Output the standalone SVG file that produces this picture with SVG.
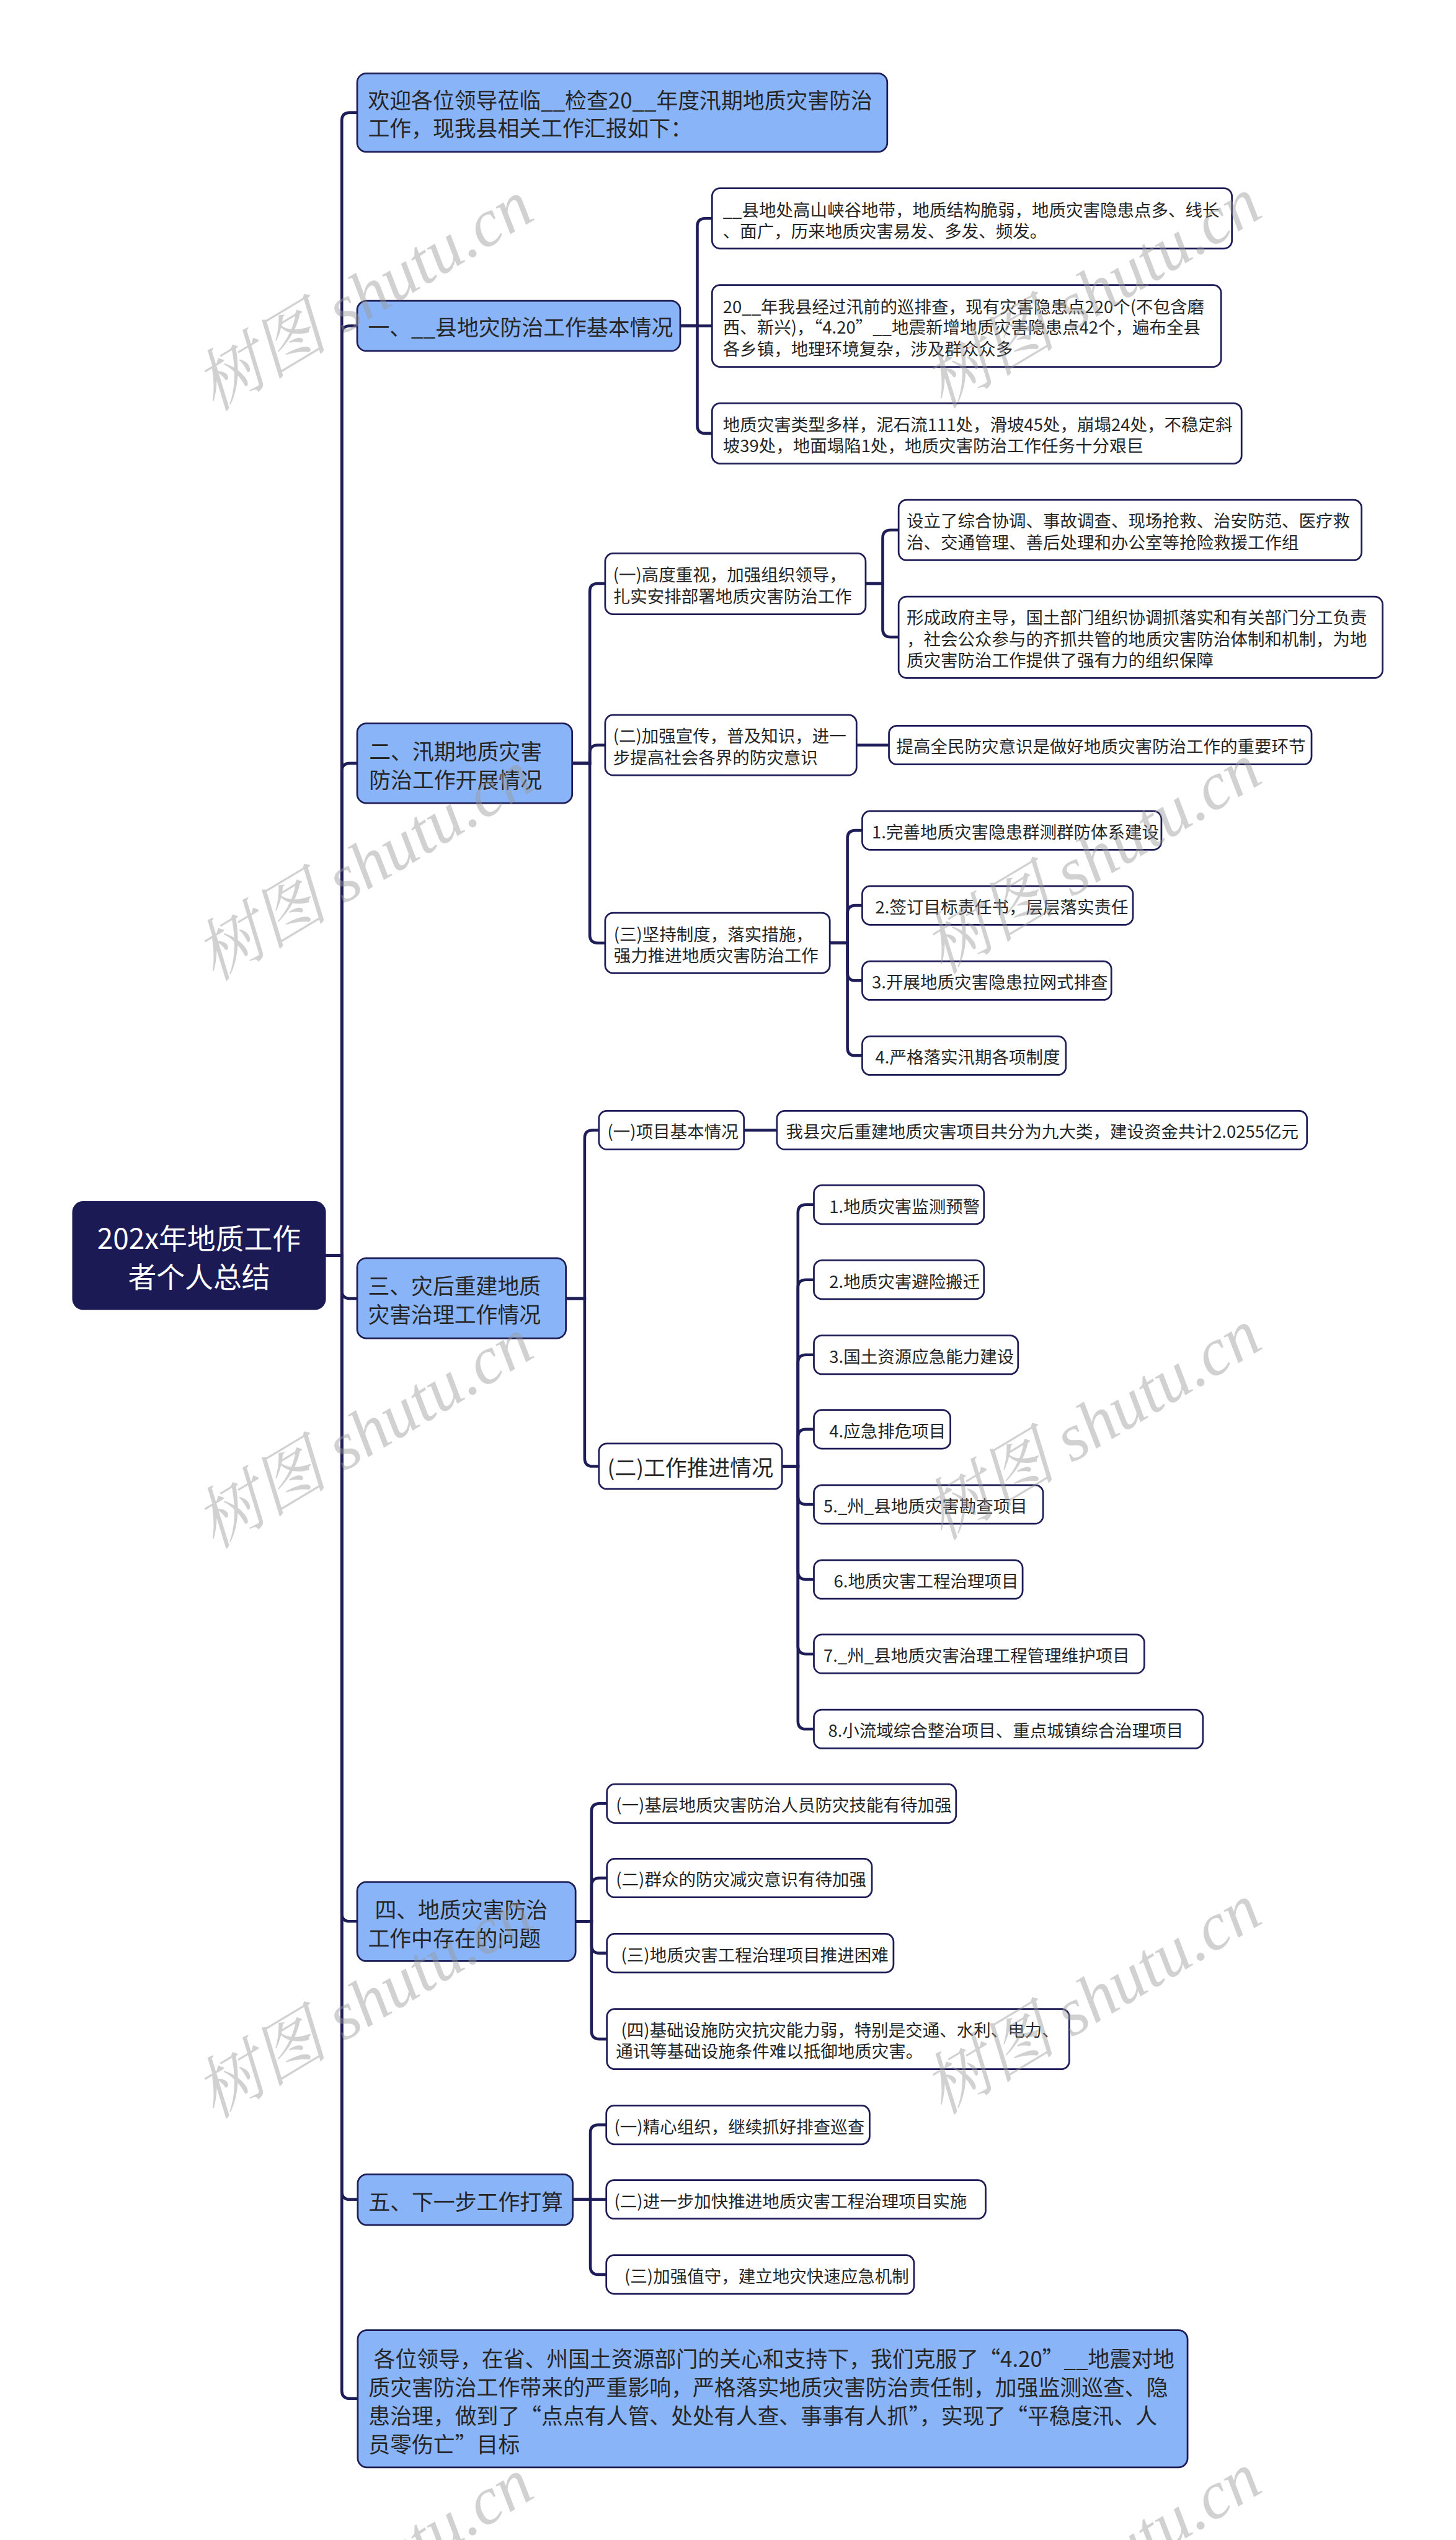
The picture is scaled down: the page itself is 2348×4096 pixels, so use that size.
<svg xmlns="http://www.w3.org/2000/svg" width="2348" height="4096" viewBox="0 0 2348 4096">
<style>
text{font-family:"Noto Sans CJK SC","Noto Sans",sans-serif;dominant-baseline:central;fill:#262626}
.l1 rect{fill:#8ab4f8;stroke:#1f1d57;stroke-width:3}
.l2 rect{fill:#ffffff;stroke:#1f1d57;stroke-width:3}
.root rect{fill:#1c1a55;stroke:#1c1a55;stroke-width:2}
.root text{fill:#ffffff;font-size:50px;text-anchor:middle}
.l1 text{font-size:38px}
.l2 text{font-size:30px}
.l2 text.big{font-size:38px}
#edges path{fill:none;stroke:#1f1d57;stroke-width:5}
.wm text{font-family:"Liberation Serif","Noto Serif CJK SC","Noto Sans CJK SC",serif;font-style:italic;font-size:118px;fill:#9a9a9a;fill-opacity:0.45}
</style>
<rect x="0" y="0" width="2348" height="4096" fill="#ffffff"/>
<g transform="scale(0.9171875)">
<g id="edges">
<path d="M572 2207 H601 V212 Q601 198 615 198 H628"/>
<path d="M572 2207 H601 V587 Q601 573 615 573 H628"/>
<path d="M572 2207 H601 V1356 Q601 1342 615 1342 H628"/>
<path d="M572 2207 H601 V2269 Q601 2283 615 2283 H628"/>
<path d="M572 2207 H601 V3364 Q601 3378 615 3378 H628"/>
<path d="M572 2207 H601 V3853 Q601 3867 615 3867 H629"/>
<path d="M572 2207 H601 V4203 Q601 4217 615 4217 H629"/>
<path d="M1196 573 H1226 V398 Q1226 384 1240 384 H1252"/>
<path d="M1196 573 H1252"/>
<path d="M1196 573 H1226 V748 Q1226 762 1240 762 H1252"/>
<path d="M1006 1342 H1037 V1040 Q1037 1026 1051 1026 H1064"/>
<path d="M1006 1342 H1037 V1324 Q1037 1310 1051 1310 H1064"/>
<path d="M1006 1342 H1037 V1644 Q1037 1658 1051 1658 H1064"/>
<path d="M1522 1026 H1552 V946 Q1552 932 1566 932 H1580"/>
<path d="M1522 1026 H1552 V1106 Q1552 1120 1566 1120 H1580"/>
<path d="M1506 1310 H1563"/>
<path d="M1459 1658 H1490 V1474 Q1490 1460 1504 1460 H1516"/>
<path d="M1459 1658 H1490 V1606 Q1490 1592 1504 1592 H1516"/>
<path d="M1459 1658 H1490 V1710 Q1490 1724 1504 1724 H1516"/>
<path d="M1459 1658 H1490 V1842 Q1490 1856 1504 1856 H1516"/>
<path d="M995 2283 H1028 V2001 Q1028 1987 1042 1987 H1053"/>
<path d="M995 2283 H1028 V2564 Q1028 2578 1042 2578 H1053"/>
<path d="M1308 1987 H1366"/>
<path d="M1375 2578 H1403 V2132 Q1403 2118 1417 2118 H1431"/>
<path d="M1375 2578 H1403 V2264 Q1403 2250 1417 2250 H1431"/>
<path d="M1375 2578 H1403 V2396 Q1403 2382 1417 2382 H1431"/>
<path d="M1375 2578 H1403 V2527 Q1403 2513 1417 2513 H1431"/>
<path d="M1375 2578 H1403 V2631 Q1403 2645 1417 2645 H1431"/>
<path d="M1375 2578 H1403 V2763 Q1403 2777 1417 2777 H1431"/>
<path d="M1375 2578 H1403 V2894 Q1403 2908 1417 2908 H1431"/>
<path d="M1375 2578 H1403 V3026 Q1403 3040 1417 3040 H1431"/>
<path d="M1012 3378 H1040 V3185 Q1040 3171 1054 3171 H1067"/>
<path d="M1012 3378 H1040 V3316 Q1040 3302 1054 3302 H1067"/>
<path d="M1012 3378 H1040 V3420 Q1040 3434 1054 3434 H1067"/>
<path d="M1012 3378 H1040 V3571 Q1040 3585 1054 3585 H1067"/>
<path d="M1007 3867 H1038 V3750 Q1038 3736 1052 3736 H1066"/>
<path d="M1007 3867 H1066"/>
<path d="M1007 3867 H1038 V3985 Q1038 3999 1052 3999 H1066"/>
</g>

<g id="root" class="root"><rect x="128" y="2113" width="444" height="189" rx="18"/><text x="350" y="2174">202x年地质工作</text><text x="350" y="2242">者个人总结</text></g>

<g id="n-a" class="l1"><rect x="628" y="129" width="932" height="138" rx="16"/><text x="647" y="174">欢迎各位领导莅临__检查20__年度汛期地质灾害防治</text><text x="647" y="224">工作，现我县相关工作汇报如下：</text></g>
<g id="n-b" class="l1"><rect x="628" y="529" width="568" height="88" rx="16"/><text x="647" y="574">一、__县地灾防治工作基本情况</text></g>
<g id="n-c" class="l1"><rect x="628" y="1272" width="378" height="140" rx="16"/><text x="649" y="1319">二、汛期地质灾害</text><text x="649" y="1369">防治工作开展情况</text></g>
<g id="n-d" class="l1"><rect x="628" y="2212" width="367" height="141" rx="16"/><text x="647" y="2259">三、灾后重建地质</text><text x="647" y="2309">灾害治理工作情况</text></g>
<g id="n-e" class="l1"><rect x="628" y="3309" width="384" height="139" rx="16"/><text x="659" y="3356">四、地质灾害防治</text><text x="647" y="3406">工作中存在的问题</text></g>
<g id="n-f" class="l1"><rect x="629" y="3823" width="378" height="89" rx="16"/><text x="648" y="3869">五、下一步工作打算</text></g>
<g id="n-g" class="l1"><rect x="629" y="4097" width="1459" height="241" rx="16"/><text x="657" y="4145">各位领导，在省、州国土资源部门的关心和支持下，我们克服了“4.20”__地震对地</text><text x="648" y="4195">质灾害防治工作带来的严重影响，严格落实地质灾害防治责任制，加强监测巡查、隐</text><text x="648" y="4246">患治理，做到了“点点有人管、处处有人查、事事有人抓”，实现了“平稳度汛、人</text><text x="648" y="4296">员零伤亡”目标</text></g>

<g id="n-b1" class="l2"><rect x="1252" y="331" width="914" height="106" rx="14"/><text x="1271" y="367">__县地处高山峡谷地带，地质结构脆弱，地质灾害隐患点多、线长</text><text x="1271" y="404">、面广，历来地质灾害易发、多发、频发。</text></g>
<g id="n-b2" class="l2"><rect x="1252" y="501" width="895" height="144" rx="14"/><text x="1271" y="537">20__年我县经过汛前的巡排查，现有灾害隐患点220个(不包含磨</text><text x="1271" y="574">西、新兴)，“4.20”__地震新增地质灾害隐患点42个，遍布全县</text><text x="1271" y="612">各乡镇，地理环境复杂，涉及群众众多</text></g>
<g id="n-b3" class="l2"><rect x="1252" y="709" width="931" height="106" rx="14"/><text x="1271" y="745">地质灾害类型多样，泥石流111处，滑坡45处，崩塌24处，不稳定斜</text><text x="1271" y="782">坡39处，地面塌陷1处，地质灾害防治工作任务十分艰巨</text></g>

<g id="n-c1" class="l2"><rect x="1064" y="973" width="458" height="107" rx="14"/><text x="1078" y="1009">(一)高度重视，加强组织领导，</text><text x="1078" y="1047">扎实安排部署地质灾害防治工作</text></g>
<g id="n-c1a" class="l2"><rect x="1580" y="879" width="814" height="106" rx="14"/><text x="1594" y="914">设立了综合协调、事故调查、现场抢救、治安防范、医疗救</text><text x="1594" y="952">治、交通管理、善后处理和办公室等抢险救援工作组</text></g>
<g id="n-c1b" class="l2"><rect x="1580" y="1049" width="851" height="143" rx="14"/><text x="1594" y="1084">形成政府主导，国土部门组织协调抓落实和有关部门分工负责</text><text x="1594" y="1122">，社会公众参与的齐抓共管的地质灾害防治体制和机制，为地</text><text x="1594" y="1159">质灾害防治工作提供了强有力的组织保障</text></g>
<g id="n-c2" class="l2"><rect x="1064" y="1257" width="442" height="106" rx="14"/><text x="1078" y="1292">(二)加强宣传，普及知识，进一</text><text x="1078" y="1330">步提高社会各界的防灾意识</text></g>
<g id="n-c2a" class="l2"><rect x="1563" y="1276" width="743" height="68" rx="14"/><text x="1576" y="1311">提高全民防灾意识是做好地质灾害防治工作的重要环节</text></g>
<g id="n-c3" class="l2"><rect x="1064" y="1605" width="395" height="106" rx="14"/><text x="1079" y="1641">(三)坚持制度，落实措施，</text><text x="1079" y="1678">强力推进地质灾害防治工作</text></g>
<g id="n-c3-1" class="l2"><rect x="1516" y="1426" width="526" height="68" rx="14"/><text x="1533" y="1461">1.完善地质灾害隐患群测群防体系建设</text></g>
<g id="n-c3-2" class="l2"><rect x="1516" y="1558" width="476" height="68" rx="14"/><text x="1539" y="1593">2.签订目标责任书，层层落实责任</text></g>
<g id="n-c3-3" class="l2"><rect x="1516" y="1690" width="438" height="68" rx="14"/><text x="1533" y="1725">3.开展地质灾害隐患拉网式排查</text></g>
<g id="n-c3-4" class="l2"><rect x="1516" y="1822" width="358" height="68" rx="14"/><text x="1539" y="1857">4.严格落实汛期各项制度</text></g>

<g id="n-d1" class="l2"><rect x="1053" y="1953" width="255" height="68" rx="14"/><text x="1068" y="1988">(一)项目基本情况</text></g>
<g id="n-d1a" class="l2"><rect x="1366" y="1953" width="932" height="68" rx="14"/><text x="1382" y="1988">我县灾后重建地质灾害项目共分为九大类，建设资金共计2.0255亿元</text></g>
<g id="n-d2" class="l2"><rect x="1053" y="2538" width="322" height="80" rx="14"/><text class="big" x="1068" y="2579">(二)工作推进情况</text></g>
<g id="n-d2-1" class="l2"><rect x="1431" y="2084" width="299" height="68" rx="14"/><text x="1458" y="2119">1.地质灾害监测预警</text></g>
<g id="n-d2-2" class="l2"><rect x="1431" y="2216" width="299" height="68" rx="14"/><text x="1458" y="2251">2.地质灾害避险搬迁</text></g>
<g id="n-d2-3" class="l2"><rect x="1431" y="2348" width="359" height="68" rx="14"/><text x="1458" y="2383">3.国土资源应急能力建设</text></g>
<g id="n-d2-4" class="l2"><rect x="1431" y="2479" width="240" height="68" rx="14"/><text x="1458" y="2514">4.应急排危项目</text></g>
<g id="n-d2-5" class="l2"><rect x="1431" y="2611" width="403" height="68" rx="14"/><text x="1448" y="2646">5._州_县地质灾害勘查项目</text></g>
<g id="n-d2-6" class="l2"><rect x="1431" y="2743" width="367" height="68" rx="14"/><text x="1466" y="2778">6.地质灾害工程治理项目</text></g>
<g id="n-d2-7" class="l2"><rect x="1431" y="2874" width="581" height="68" rx="14"/><text x="1448" y="2909">7._州_县地质灾害治理工程管理维护项目</text></g>
<g id="n-d2-8" class="l2"><rect x="1431" y="3006" width="684" height="68" rx="14"/><text x="1456" y="3041">8.小流域综合整治项目、重点城镇综合治理项目</text></g>

<g id="n-e1" class="l2"><rect x="1067" y="3137" width="614" height="68" rx="14"/><text x="1083" y="3172">(一)基层地质灾害防治人员防灾技能有待加强</text></g>
<g id="n-e2" class="l2"><rect x="1067" y="3268" width="466" height="68" rx="14"/><text x="1083" y="3303">(二)群众的防灾减灾意识有待加强</text></g>
<g id="n-e3" class="l2"><rect x="1067" y="3400" width="504" height="68" rx="14"/><text x="1092" y="3435">(三)地质灾害工程治理项目推进困难</text></g>
<g id="n-e4" class="l2"><rect x="1067" y="3532" width="813" height="106" rx="14"/><text x="1092" y="3567">(四)基础设施防灾抗灾能力弱，特别是交通、水利、电力、</text><text x="1083" y="3605">通讯等基础设施条件难以抵御地质灾害。</text></g>

<g id="n-f1" class="l2"><rect x="1066" y="3702" width="463" height="68" rx="14"/><text x="1080" y="3737">(一)精心组织，继续抓好排查巡查</text></g>
<g id="n-f2" class="l2"><rect x="1066" y="3833" width="667" height="68" rx="14"/><text x="1080" y="3868">(二)进一步加快推进地质灾害工程治理项目实施</text></g>
<g id="n-f3" class="l2"><rect x="1066" y="3965" width="541" height="68" rx="14"/><text x="1098" y="4000">(三)加强值守，建立地灾快速应急机制</text></g>

<g class="wm">
<text transform="translate(640,520) rotate(-31)" text-anchor="middle">树图 shutu.cn</text>
<text transform="translate(1920,515) rotate(-31)" text-anchor="middle">树图 shutu.cn</text>
<text transform="translate(640,1522) rotate(-31)" text-anchor="middle">树图 shutu.cn</text>
<text transform="translate(1920,1510) rotate(-31)" text-anchor="middle">树图 shutu.cn</text>
<text transform="translate(640,2520) rotate(-31)" text-anchor="middle">树图 shutu.cn</text>
<text transform="translate(1920,2505) rotate(-31)" text-anchor="middle">树图 shutu.cn</text>
<text transform="translate(640,3522) rotate(-31)" text-anchor="middle">树图 shutu.cn</text>
<text transform="translate(1920,3515) rotate(-31)" text-anchor="middle">树图 shutu.cn</text>
<text transform="translate(640,4525) rotate(-31)" text-anchor="middle">树图 shutu.cn</text>
<text transform="translate(1920,4515) rotate(-31)" text-anchor="middle">树图 shutu.cn</text>
</g>
</g>
</svg>
